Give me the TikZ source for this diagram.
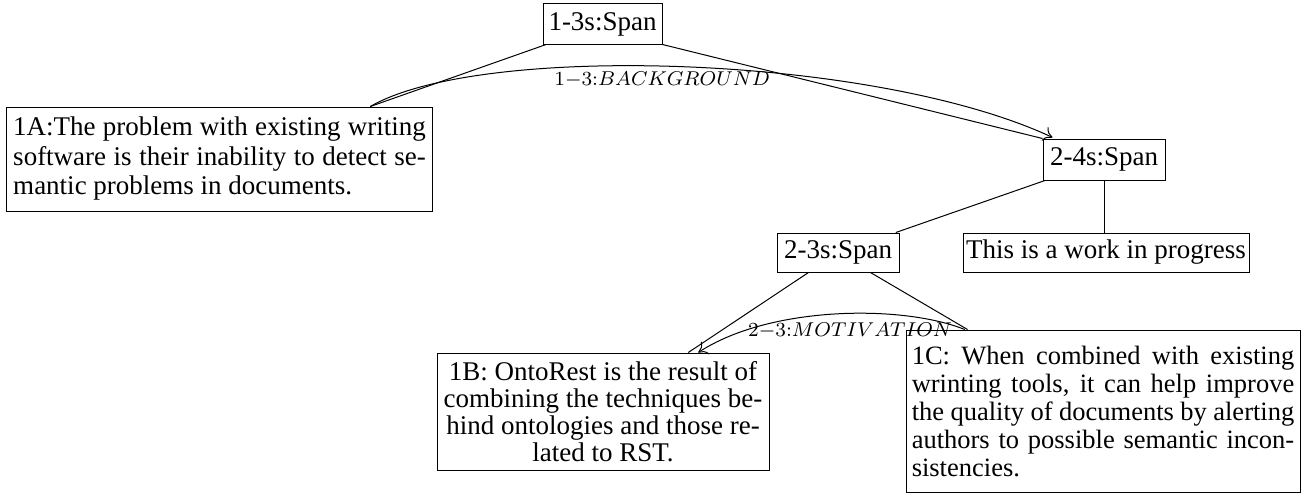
\documentclass[tikz,border=0pt]{standalone}
\usepackage{fontspec}
\setmainfont{Liberation Serif}
\usetikzlibrary{calc,arrows.meta}
\begin{document}
\begin{tikzpicture}[x=0.4pt,y=-0.4pt,
  box/.style={draw, inner sep=0pt, font=\fontsize{10.8}{12}\selectfont},
  rel/.style={font=\footnotesize, inner sep=2pt},
  arr/.style={-{To[length=3.5pt,width=6pt]}}]
\useasboundingbox (0,0) rectangle (1305,493);

% span nodes
\node[box, minimum width=47.6pt, minimum height=16pt] (t13) at (602.5,24) {1-3s:Span};
\node[box, minimum width=48.8pt, minimum height=16.4pt] (s24) at (1104,159.5) {2-4s:Span};
\node[box, minimum width=48.8pt, minimum height=15.6pt] (s23) at (838,252.5) {2-3s:Span};

% leaves
\node[box, minimum width=170pt, minimum height=41.6pt, inner xsep=2.5pt,
  text width=165pt, align=justify, font=\fontsize{10.8}{11.8}\selectfont] (a1) at (219.5,159)
  {1A:The problem with existing writing\linebreak software is their inability to detect se-\linebreak mantic problems in documents.};
\node[box, minimum width=114.4pt, minimum height=15.6pt] (w) at (1106,252.5) {This is a work in progress};
\node[box, minimum width=132.8pt, minimum height=46.8pt, inner xsep=1.4pt,
  text width=130pt, align=flush center, font=\fontsize{10.8}{10.8}\selectfont] (b1) at (603,411.5)
  {1B: OntoRest is the result of\\ combining the techniques be-\\ hind ontologies and those re-\\ lated to RST.};
\node[box, minimum width=157.6pt, minimum height=64.8pt, inner xsep=2.3pt,
  text width=153pt, align=justify, font=\fontsize{10.6}{11.2}\selectfont] (c1) at (1103,411)
  {1C: When combined with existing\linebreak wrinting tools, it can help improve\linebreak the quality of documents by alerting\linebreak authors to possible semantic incon-\linebreak sistencies.};

% tree edges
\draw ($(t13.south west)!0.03!(t13.south east)$) -- ($(a1.north west)!0.854!(a1.north east)$);
\draw (t13.south east) -- (s24.north west);
\draw ($(s24.south west)!0.02!(s24.south east)$) -- ($(s23.north west)!0.97!(s23.north east)$);
\draw (s24.south) -- (s24.south |- w.north);
\draw ($(s23.south west)!0.26!(s23.south east)$) -- ($(b1.north west)!0.756!(b1.north east)$);
\draw ($(s23.south west)!0.764!(s23.south east)$) -- ($(c1.north west)!0.157!(c1.north east)$);

% relations
\draw[arr, shorten >=1pt] ($(a1.north west)!0.854!(a1.north east)$)
  .. controls +(110,-64) and +(-180,-84) ..
  ($(s24.north west)!0.1!(s24.north east)$)
  node[rel, pos=0.47, below] {$1{-}3{:}BACKGROUND$};
\draw[arr] ($(c1.north west)!0.15!(c1.north east)$)
  .. controls +(-62,-25) and +(72,-47) ..
  ($(b1.north west)!0.786!(b1.north east)$)
  node[rel, pos=0.45, below, yshift=-1.5pt] {$2{-}3{:}MOTIVATION$};
\end{tikzpicture}
\end{document}
